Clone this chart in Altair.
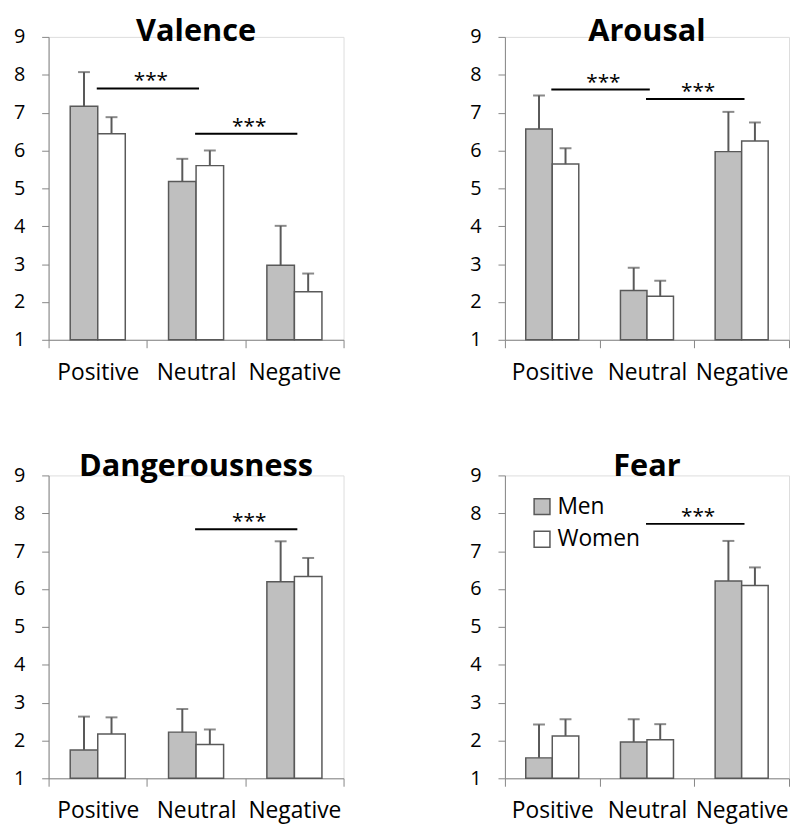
import altair as alt
import pandas as pd

categories = ["Positive", "Neutral", "Negative"]
groups = ["Men", "Women"]
panel_names = ["Valence", "Arousal", "Dangerousness", "Fear"]

# means and error (SD)
men_mean = {
    "Valence": [7.17, 5.18, 2.97],
    "Arousal": [6.57, 2.30, 5.97],
    "Dangerousness": [1.75, 2.22, 6.19],
    "Fear": [1.54, 1.96, 6.21],
}
men_err = {
    "Valence": [0.90, 0.60, 1.04],
    "Arousal": [0.88, 0.60, 1.05],
    "Dangerousness": [0.88, 0.61, 1.07],
    "Fear": [0.88, 0.60, 1.06],
}
women_mean = {
    "Valence": [6.44, 5.60, 2.27],
    "Arousal": [5.64, 2.15, 6.25],
    "Dangerousness": [2.17, 1.89, 6.33],
    "Fear": [2.12, 2.02, 6.09],
}
women_err = {
    "Valence": [0.44, 0.40, 0.48],
    "Arousal": [0.42, 0.41, 0.49],
    "Dangerousness": [0.44, 0.40, 0.49],
    "Fear": [0.44, 0.41, 0.48],
}
# significance brackets: (from category, to category, height on the rating scale)
sig_from = {"Valence": ["Positive", "Neutral"], "Arousal": ["Positive", "Neutral"],
            "Dangerousness": ["Neutral"], "Fear": ["Neutral"]}
sig_to = {"Valence": ["Neutral", "Negative"], "Arousal": ["Neutral", "Negative"],
          "Dangerousness": ["Negative"], "Fear": ["Negative"]}
sig_level = {"Valence": [7.64, 6.44], "Arousal": [7.61, 7.36],
             "Dangerousness": [7.58], "Fear": [7.72]}
sig_label = "***"
y_ticks = list(range(1, 10))

FONT = "Open Sans"
AXIS_GREY = "#868686"
EDGE = "#595959"
BAR_START = 0.22
BAR_W = 0.28


def panel(name, width, title_offset, show_legend=False):
    rows = []
    for i, c in enumerate(categories):
        for g, means, errs in (("Men", men_mean, men_err), ("Women", women_mean, women_err)):
            off = groups.index(g)
            x0 = i + BAR_START + off * BAR_W
            rows.append(dict(cat=c, group=g, mean=means[name][i], err=errs[name][i],
                             x0=x0, x1=x0 + BAR_W, xc=x0 + BAR_W / 2, base=1))
    df = pd.DataFrame(rows)
    df["top"] = df["mean"] + df["err"]

    sig = pd.DataFrame({
        "a": [categories.index(c) + 0.49 for c in sig_from[name]],
        "b": [categories.index(c) + 0.53 for c in sig_to[name]],
        "y": sig_level[name],
    })
    sig["mid"] = (sig["a"] + sig["b"]) / 2 + 0.03
    sig["label"] = sig_label

    label_expr = " : ".join(
        [f"datum.value == {i + 0.5} ? '{c}'" for i, c in enumerate(categories)]
    ) + " : ''"
    xscale = alt.Scale(domain=[0, len(categories)], nice=False, zero=False)
    yscale = alt.Scale(domain=[1, 9], nice=False, zero=False)
    xaxis = alt.Axis(
        values=[k / 2 for k in range(0, 2 * len(categories) + 1)],
        labelExpr=label_expr, labelOverlap=False, labelFlush=False,
        tickOpacity={"condition": {"test": "datum.value % 1 === 0", "value": 1}, "value": 0},
        tickSize=8, tickColor=AXIS_GREY, domainColor=AXIS_GREY, tickWidth=1, domainWidth=1,
        labelFont=FONT, labelFontSize=23, labelColor="black", labelPadding=14,
        grid=False, title=None,
    )
    yaxis = alt.Axis(
        values=y_ticks, tickSize=7, tickColor=AXIS_GREY, domainColor=AXIS_GREY,
        labelFont=FONT, labelFontSize=20, labelColor="black", labelPadding=17,
        labelOverlap=False, labelFlush=False, labelBound=False, grid=False, title=None,
    )
    if show_legend:
        legend = alt.Legend(
            orient="none", legendX=26, legendY=20, title=None, symbolType="square",
            symbolSize=256, symbolStrokeColor=EDGE, symbolStrokeWidth=1.5,
            labelFont=FONT, labelFontSize=23, labelColor="black", rowPadding=9,
            labelOffset=4, symbolOpacity=1,
        )
    else:
        legend = None

    X = lambda f: alt.X(f, scale=xscale, axis=xaxis)
    Y = lambda f: alt.Y(f, scale=yscale, axis=yaxis)

    base = alt.Chart(df)
    bars = base.mark_bar(stroke=EDGE, strokeWidth=1.5, opacity=1).encode(
        x=X("x0:Q"),
        x2="x1:Q",
        y=Y("mean:Q"),
        y2="base:Q",
        color=alt.Color("group:N", scale=alt.Scale(domain=groups, range=["#bfbfbf", "#ffffff"]),
                        legend=legend),
    )
    err_line = base.mark_rule(color=EDGE, strokeWidth=2).encode(
        x=X("xc:Q"), y=Y("mean:Q"), y2="top:Q"
    )
    err_cap = base.mark_tick(color=EDGE, orient="horizontal", size=12, thickness=2).encode(
        x=X("xc:Q"), y=Y("top:Q")
    )
    sbase = alt.Chart(sig)
    sig_line = sbase.mark_rule(color="black", strokeWidth=2).encode(
        x=X("a:Q"), x2="b:Q", y=Y("y:Q")
    )
    sig_text = sbase.mark_text(font=FONT, fontSize=21, color="black", baseline="alphabetic",
                               dy=-1).encode(x=X("mid:Q"), y=Y("y:Q"), text="label:N")
    return alt.layer(bars, err_line, err_cap, sig_line, sig_text).properties(
        width=width, height=306,
        title=alt.TitleParams(name, font=FONT, fontSize=31, fontWeight="bold",
                              color="black", anchor="middle", offset=title_offset),
    )


top = alt.hconcat(panel("Valence", 298, -21), panel("Arousal", 287, -21),
                  spacing=126).resolve_scale(color="independent")
bottom = alt.hconcat(panel("Dangerousness", 298, -18), panel("Fear", 287, -18, show_legend=True),
                     spacing=126).resolve_scale(color="independent")
chart = alt.vconcat(top, bottom, spacing=66).resolve_scale(color="independent").properties(
    padding={"left": 5, "top": 3, "right": 0, "bottom": 0}
).configure_view(stroke=None).configure_axisY(labelOverlap=False).configure(background="white")

chart.save("out.html", embed_options={"renderer": "svg", "actions": False})
